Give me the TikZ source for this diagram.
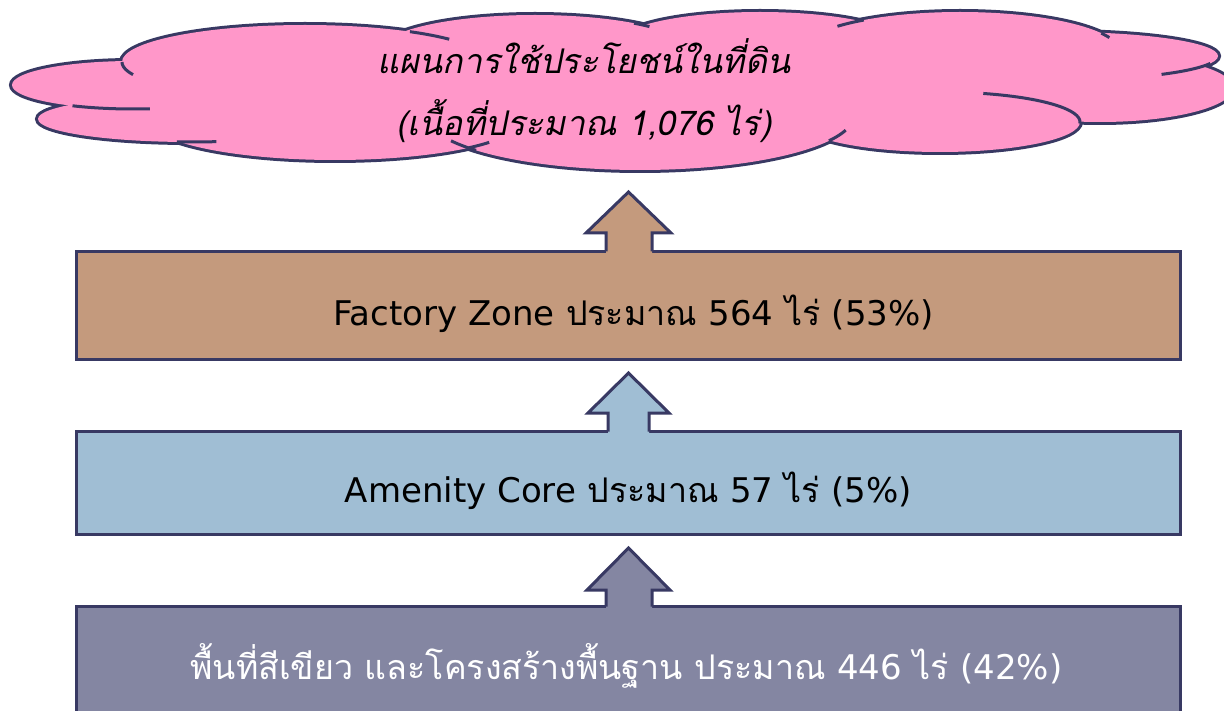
\documentclass[tikz,border=0pt]{standalone}
\usepackage{fontspec}
\newfontfamily\thai[Script=Thai]{Loma}
\newfontfamily\thaiit[Script=Thai,FakeSlant=0.2]{Loma}
\newfontfamily\latfont{DejaVu Sans}
\newcommand\latn[1]{{\latfont #1}}
\definecolor{edgecol}{RGB}{56,57,99}
\definecolor{pinkfill}{RGB}{255,151,201}
\definecolor{brownfill}{RGB}{196,154,125}
\definecolor{bluefill}{RGB}{160,190,212}
\definecolor{slatefill}{RGB}{132,134,162}
\begin{document}
\begin{tikzpicture}[x=1pt,y=-1pt,
  cloudedge/.style={draw=edgecol,line width=3pt},
  boxstyle/.style={draw=edgecol,line width=3pt},
  arrowedge/.style={draw=edgecol,line width=3pt,line join=miter},
  boxtext/.style={font=\thai\fontsize{34}{40}\selectfont,inner sep=0pt,anchor=base},
  cloudtext/.style={font=\thaiit\fontsize{34}{62}\selectfont,inner sep=0pt,align=center,anchor=base}]
\useasboundingbox (0,0) rectangle (1224,711);
% ---------- cloud ----------
\def\lobes{305/62/183/37, 133/85/121/24, 190/119/152/23, 335/120/186/40, 640/115/214/55, 940/122/140/30, 1100/88/133/34, 1060/56/158/24, 960/52/160/40, 760/42/140/30, 535/50/154/35}
\foreach \cx/\cy/\rx/\ry in \lobes {
  \draw[edgecol,line width=6pt] (\cx,\cy) ellipse [x radius=\rx pt, y radius=\ry pt];
}
\foreach \cx/\cy/\rx/\ry in \lobes {
  \fill[pinkfill] (\cx,\cy) ellipse [x radius=\rx pt, y radius=\ry pt];
}
\fill[pinkfill] (640,95) ellipse [x radius=500pt, y radius=45pt];
% inner tails of the cloud lobes
\draw[cloudedge] plot[domain=160:180,samples=15,variable=\t] ({305+183*cos(\t)},{62+37*sin(\t)});
\draw[cloudedge] plot[domain=305:322,samples=15,variable=\t] ({305+183*cos(\t)},{62+37*sin(\t)});
\draw[cloudedge] plot[domain=310:318,samples=8,variable=\t] ({535+154*cos(\t)},{50+35*sin(\t)});
\draw[cloudedge] plot[domain=220:233,samples=10,variable=\t] ({960+160*cos(\t)},{52+40*sin(\t)});
\draw[cloudedge] plot[domain=332:339,samples=8,variable=\t] ({960+160*cos(\t)},{52+40*sin(\t)});
\draw[cloudedge] plot[domain=18:50,samples=20,variable=\t] ({1060+158*cos(\t)},{56+24*sin(\t)});
\draw[cloudedge] plot[domain=-72:3,samples=30,variable=\t] ({940+140*cos(\t)},{122+30*sin(\t)});
\draw[cloudedge] plot[domain=16:28,samples=10,variable=\t] ({640+214*cos(\t)},{115+55*sin(\t)});
\draw[cloudedge] plot[domain=140:152,samples=10,variable=\t] ({640+214*cos(\t)},{115+55*sin(\t)});
\draw[cloudedge] plot[domain=34:44,samples=10,variable=\t] ({335+186*cos(\t)},{120+40*sin(\t)});
\draw[cloudedge] plot[domain=80:95,samples=10,variable=\t] ({190+152*cos(\t)},{119+23*sin(\t)});
\draw[cloudedge] plot[domain=82:120,samples=20,variable=\t] ({133+121*cos(\t)},{85+24*sin(\t)});
\node[cloudtext] (cloud) at (584,136) {แผนการใช้ประโยชน์ในที่ดิน\\(เนื้อที่ประมาณ 1,076 ไร่)};
% ---------- boxes ----------
\draw[boxstyle,fill=brownfill] (76.5,251.5) rectangle (1180.5,359.5);
\draw[boxstyle,fill=bluefill] (76.5,431.5) rectangle (1180.5,534);
\draw[boxstyle,fill=slatefill] (76.5,606.5) rectangle (1180.5,730);
% ---------- arrows ----------
\fill[brownfill] (606,254) -- (606,233) -- (586,233) -- (628.5,192) -- (671,233) -- (652,233) -- (652,254) -- cycle;
\draw[arrowedge] (606,251.5) -- (606,233) -- (586,233) -- (628.5,192) -- (671,233) -- (652,233) -- (652,251.5);
\fill[bluefill] (608,434) -- (608,413) -- (588,413) -- (628.5,373) -- (669,413) -- (649,413) -- (649,434) -- cycle;
\draw[arrowedge] (608,431.5) -- (608,413) -- (588,413) -- (628.5,373) -- (669,413) -- (649,413) -- (649,431.5);
\fill[slatefill] (606,609) -- (606,590) -- (587,590) -- (628.5,548) -- (670,590) -- (652,590) -- (652,609) -- cycle;
\draw[arrowedge] (606,606.5) -- (606,590) -- (587,590) -- (628.5,548) -- (670,590) -- (652,590) -- (652,606.5);
% ---------- texts ----------
\node[boxtext] (t1) at (633.5,326) {\latn{Factory Zone} ประมาณ \latn{564} ไร่ \latn{(53\%)}};
\node[boxtext] (t2) at (628.5,502) {\latn{Amenity Core} ประมาณ \latn{57} ไร่ \latn{(5\%)}};
\node[boxtext,text=white] (t3) at (626.5,679) {พื้นที่สีเขียว และโครงสร้างพื้นฐาน ประมาณ \latn{446} ไร่ \latn{(42\%)}};
\end{tikzpicture}
\end{document}
